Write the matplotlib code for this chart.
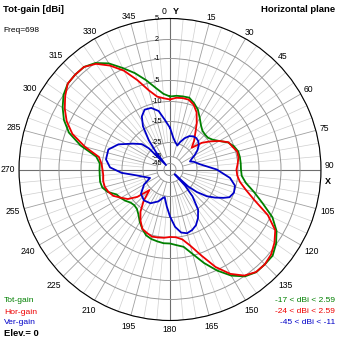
import numpy as np
import matplotlib
matplotlib.use('Agg')
import matplotlib.pyplot as plt

plt.rcParams['font.family'] = ['Liberation Sans', 'DejaVu Sans']

# ---------------- data ----------------
ring_values = [5, 2, -1, -5, -10, -15, -25, -35, -45]
ring_labels = ['5', '2', '-1', '-5', '-10', '-15', '-25', '-35', '-45']
angle_ticks = [a for a in range(15, 360, 15) if a != 90]
angle_labels = [str(a) for a in angle_ticks]

tot_theta = list(range(0, 360, 5))
tot_gain = [-8.81, -8.57, -8.52, -8.48, -9.40, -10.5, -12.13, -13.5, -14.38, -14.63,
            -14.63, -14.0, -12.75, -11.0, -10.0, -9.4, -9.29, -9.29, -9.29, -9.05,
            -7.86, -5.48, -3.27, -0.68, 0.90, 1.92, 2.57, 2.59, 2.58, 2.07,
            0.82, -0.92, -3.09, -5.36, -7.5, -8.1, -8.57, -8.57, -8.81, -9.05,
            -9.52, -10.63, -11.88, -13.25, -14.13, -14.38, -14.13, -13.38, -12.75, -12.25,
            -10.5, -9.52, -9.29, -9.4, -9.4, -9.4, -8.33, -4.36, -1.64, -0.05,
            1.05, 2.0, 2.5, 2.59, 2.55, 2.0, 0.82, -0.84, -2.54, -4.36,
            -6.43, -8.1]

hor_theta = list(range(0, 360, 5))
hor_gain = [-9.52, -9.05, -8.93, -8.98, -9.76, -11.25, -13.63, -16.9, -20.0, -23.2,
            -18.1, -14.75, -12.75, -10.88, -10.38, -9.64, -9.64, -10.0, -10.38, -10.13,
            -9.29, -7.5, -4.82, -1.55, 0.66, 1.61, 2.29, 2.59, 2.55, 1.92,
            0.5, -1.64, -4.55, -7.38, -9.29, -10.0, -10.13, -9.88, -9.76, -9.64,
            -10.13, -10.63, -12.25, -14.13, -18.33, -24.0, -17.6, -14.13, -12.88, -11.38,
            -10.63, -10.13, -10.05, -10.25, -10.13, -9.8, -9.0, -5.2, -2.3, -0.53,
            0.66, 1.68, 2.5, 2.59, 2.55, 1.84, 0.42, -1.36, -3.91, -6.67,
            -8.57, -9.17]

ver_theta = [0, 6, 10, 17, 20, 25, 30, 35, 40, 45, 50, 55, 60, 64, 68, 72, 80, 90, 98,
             104, 110, 115, 118, 122, 126, 130, 133, 135, 137, 140, 145, 150, 155, 160,
             165, 170, 175, 180, 185, 191, 195, 200, 210, 220, 230, 240, 247, 252, 260,
             266, 272, 279, 288, 296, 305, 312, 315, 318, 321, 324, 328, 332, 337, 343,
             349, 354]
ver_gain = [-18.0, -22.7, -24.3, -26.4, -24.05, -21.43, -19.5, -18.57, -18.33, -18.8,
            -20.0, -21.9, -24.3, -27.1, -28.9, -26.4, -23.4, -15.6, -11.85,
            -10.25, -10.0, -10.6, -11.9, -13.75, -16.2, -21.2, -26.4, -44.0, -28.6, -21.2,
            -14.75, -13.0, -11.63, -10.88,
            -10.5, -11.0, -12.63, -15.5, -20.2, -24.5, -23.6, -21.7, -19.3, -18.6, -19.8,
            -23.6, -28.8, -26.4, -21.7,
            -14.9, -12.0, -10.8, -10.8, -12.65, -16.4, -19.8, -23.6, -45.0, -28.6, -20.7,
            -14.25, -12.0, -10.75, -10.9,
            -12.1, -14.5]

# radial scale of the original grid (dB -> fraction of outer radius)
scale_db = [-60, -45, -35, -25, -15, -10, -5, -1, 2, 5, 15]
scale_r = [0, 6, 13, 27, 48, 68, 89, 111, 130, 151, 221]


def fwd(v):
    return np.interp(np.asarray(v, dtype=float), scale_db, scale_r) / 151.0


def inv(r):
    return np.interp(np.asarray(r, dtype=float) * 151.0, scale_r, scale_db)


GREEN, RED, BLUE = '#008000', '#ee0000', '#0000c8'

W = H = 339
fig = plt.figure(figsize=(W / 100, H / 100), dpi=100, facecolor='white')
cx, cy, R = 170, 169.5, 151
ax = fig.add_axes([(cx - R) / W, (H - cy - R) / H, 2 * R / W, 2 * R / H],
                  projection='polar')
ax.set_theta_zero_location('N')
ax.set_theta_direction(-1)
ax.set_rscale('function', functions=(fwd, inv))
ax.set_rlim(-60, 5)

ax.set_rgrids(ring_values, labels=[''] * len(ring_values))
ax.yaxis.grid(True, color='#979797', lw=0.7)
ax.xaxis.grid(False)
ax.set_xticks([])
ax.tick_params(axis='y', length=0)
ax.spines['polar'].set_color('black')
ax.spines['polar'].set_linewidth(0.8)

# radial grid lines
for a in range(0, 360, 5):
    t = np.deg2rad(a)
    if a % 90 == 0:
        ax.plot([t, t], [-60, 5], color='#6e6e6e', lw=0.8, zorder=1.5)
    elif a % 15 == 0:
        ax.plot([t, t], [-35, 5], color='#a0a0a0', lw=0.6, zorder=1.2)
    else:
        ax.plot([t, t], [-25, 5], color='#cfcfcf', lw=0.5, zorder=1.1)

# angle labels just outside the circle
for a, lab in zip(angle_ticks, angle_labels):
    t = np.deg2rad(a)
    w = 4.6 * len(lab)
    h = 7.0
    gap = 2.0 + 4.0 * (1 - np.cos(t)) / 2
    d = gap + 0.5 * (w * abs(np.sin(t)) + h * abs(np.cos(t)))
    ax.annotate(lab, xy=(t, 5), xytext=(d * np.sin(t), d * np.cos(t)),
                textcoords='offset pixels', ha='center', va='center',
                fontsize=6.2, color='black', annotation_clip=False)

# ring labels along 0 deg
for v, lab in zip(ring_values, ring_labels):
    ax.annotate(lab, xy=(0, v), xytext=(-13, 0), textcoords='offset pixels',
                ha='center', va='center', fontsize=5.2, color='black', zorder=2)


def closed(th, g):
    th = list(th) + [th[0] + 360]
    g = list(g) + [g[0]]
    return np.deg2rad(th), g


for th, g, col in [(tot_theta, tot_gain, GREEN),
                   (hor_theta, hor_gain, RED),
                   (ver_theta, ver_gain, BLUE)]:
    t, gg = closed(th, g)
    ax.plot(t, gg, color=col, lw=1.3, zorder=3, solid_joinstyle='round')


def ftxt(x, y, s, **kw):
    fig.text(x / W, 1 - y / H, s, **kw)


ftxt(3, 10, 'Tot-gain [dBi]', fontsize=6.8, fontweight='bold', va='center', ha='left')
ftxt(3, 31, 'Freq=698', fontsize=6, va='center', ha='left')
ftxt(335, 9, 'Horizontal plane', fontsize=6.8, fontweight='bold', va='center', ha='right')
ftxt(164, 11.5, '0', fontsize=6.2, va='center', ha='center')
ftxt(176, 11.5, 'Y', fontsize=6.5, fontweight='bold', va='center', ha='center')
ftxt(329, 165.5, '90', fontsize=6.2, va='center', ha='center')
ftxt(327.5, 181, 'X', fontsize=6.5, fontweight='bold', va='center', ha='center')

ftxt(4, 300, 'Tot-gain', fontsize=6.1, color=GREEN, va='center', ha='left')
ftxt(4, 312, 'Hor-gain', fontsize=6.1, color=RED, va='center', ha='left')
ftxt(4, 323, 'Ver-gain', fontsize=6.1, color=BLUE, va='center', ha='left')
ftxt(4, 333.5, 'Elev.= 0', fontsize=6.8, fontweight='bold', color='black', va='center', ha='left')

ftxt(335, 300, '-17 < dBi < 2.59', fontsize=6, color=GREEN, va='center', ha='right')
ftxt(335, 311.5, '-24 < dBi < 2.59', fontsize=6, color=RED, va='center', ha='right')
ftxt(335, 323, '-45 < dBi < -11', fontsize=6, color=BLUE, va='center', ha='right')

fig.savefig('out.png', dpi=100, facecolor='white')
